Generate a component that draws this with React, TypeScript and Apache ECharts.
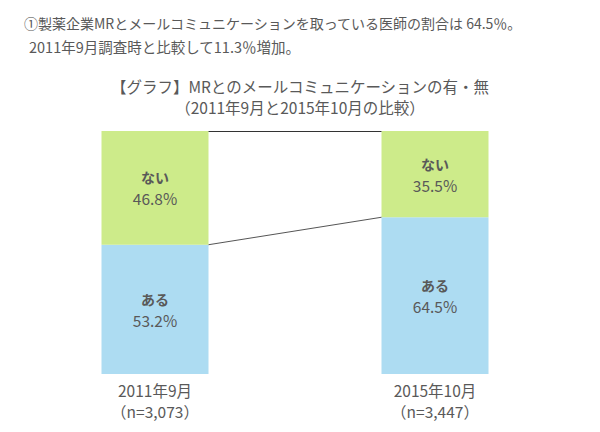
import React, { useEffect, useRef } from "react";
import * as echarts from "echarts";

const categories = ["2011年9月", "2015年10月"];
const sampleSizes = ["3,073", "3,447"];
const ariValues = [53.2, 64.5];
const naiValues = [46.8, 35.5];

const TEXT = "#595959";
const FONT = "'Noto Sans CJK JP', 'Noto Sans', sans-serif";
const BAR_W = 107;

export default function App() {
  const ref = useRef<HTMLDivElement>(null);
  useEffect(() => {
    if (!ref.current) return;
    const chart = echarts.init(ref.current, null, { renderer: "svg" });
    const totals = ariValues.map((v, i) => v + naiValues[i]);
    const labelFmt = (name: string) => (p: any) => `{b|${name}}\n{v|${p.value}%}`;
    const labelRich = {
      b: { fontWeight: "bold", fontSize: 14, color: TEXT, fontFamily: FONT, lineHeight: 21 },
      v: { fontSize: 15.5, color: TEXT, fontFamily: FONT, lineHeight: 21 },
    };
    const ts = (size: number) => ({ fontSize: size, fontWeight: "normal", color: TEXT, fontFamily: FONT });
    chart.setOption({
      animation: false,
      textStyle: { fontFamily: FONT },
      title: [
        {
          text: "①製薬企業MRとメールコミュニケーションを取っている医師の割合は 64.5％。",
          left: 19,
          top: 11,
          textStyle: ts(14),
        },
        {
          text: "2011年9月調査時と比較して11.3％増加。",
          left: 24,
          top: 34,
          textStyle: ts(14.5),
        },
        {
          text: "【グラフ】MRとのメールコミュニケーションの有・無",
          left: "center",
          top: 78,
          padding: 0,
          textStyle: ts(15.5),
        },
        {
          text: "（2011年9月と2015年10月の比較）",
          left: "center",
          top: 99,
          padding: 0,
          textStyle: ts(15.5),
        },
      ],
      grid: { left: 15, right: 25, top: 131, bottom: 58 },
      xAxis: {
        type: "category",
        data: categories,
        axisLine: { show: false },
        axisTick: { show: false },
        axisLabel: {
          margin: 5,
          color: TEXT,
          fontSize: 15.5,
          lineHeight: 21,
          fontFamily: FONT,
          formatter: (v: string, i: number) => `${v}\n（n=${sampleSizes[i]}）`,
        },
      },
      yAxis: { type: "value", min: 0, max: 100, show: false },
      series: [
        {
          name: "ある",
          type: "bar",
          stack: "s",
          barWidth: BAR_W,
          data: ariValues,
          itemStyle: { color: "#addcf2" },
          label: { show: true, position: "inside", formatter: labelFmt("ある"), rich: labelRich },
        },
        {
          name: "ない",
          type: "bar",
          stack: "s",
          barWidth: BAR_W,
          data: naiValues,
          itemStyle: { color: "#cdeb8a" },
          label: { show: true, position: "inside", formatter: labelFmt("ない"), rich: labelRich },
        },
        {
          type: "custom",
          silent: true,
          z: 5,
          data: [[0, ariValues[0], ariValues[1], totals[0], totals[1]]],
          renderItem: (params: any, api: any) => {
            const half = BAR_W / 2;
            const a0 = api.coord([0, api.value(1)]);
            const a1 = api.coord([1, api.value(2)]);
            const t0 = api.coord([0, api.value(3)]);
            const t1 = api.coord([1, api.value(4)]);
            return {
              type: "group",
              children: [
                {
                  type: "line",
                  shape: { x1: a0[0] + half, y1: a0[1], x2: a1[0] - half, y2: a1[1] },
                  style: { stroke: "#555", lineWidth: 1 },
                },
                {
                  type: "line",
                  shape: { x1: t0[0] + half, y1: t0[1] + 0.5, x2: t1[0] - half, y2: t1[1] + 0.5 },
                  style: { stroke: "#333", lineWidth: 1 },
                },
              ],
            };
          },
        },
      ],
    });
    return () => chart.dispose();
  }, []);
  return <div ref={ref} style={{ width: 600, height: 432, position: "absolute", left: 0, top: 0 }} />;
}
